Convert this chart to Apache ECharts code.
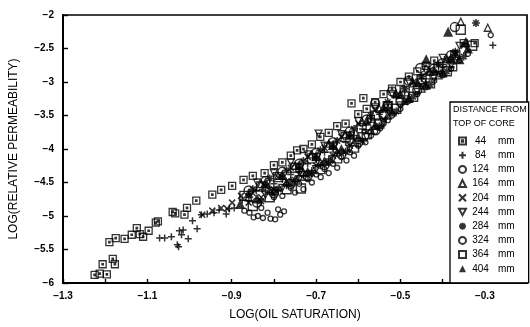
<!DOCTYPE html>
<html>
<head>
<meta charset="utf-8">
<script src="https://cdn.jsdelivr.net/npm/echarts@6/dist/echarts.min.js"></script>
<style>
  html, body { margin: 0; padding: 0; background: #fff; }
  #chart { width: 530px; height: 327px; }
</style>
</head>
<body>
<div id="chart"></div>
<script>
// Log relative permeability vs log oil saturation, grouped by distance from top of core
const depthNames = ['44 mm', '84 mm', '124 mm', '164 mm', '204 mm', '244 mm', '284 mm', '324 mm', '364 mm', '404 mm'];
const xTickLabels = [-1.3, -1.1, -0.9, -0.7, -0.5, -0.3];
const yTickLabels = [-6, -5.5, -5, -4.5, -4, -3.5, -3, -2.5, -2];

const d44 = [
  [-1.225,-5.88],[-1.213,-5.86],[-1.196,-5.87],[-1.206,-5.72],[-1.182,-5.64],[-1.177,-5.72],
  [-1.190,-5.39],[-1.175,-5.33],[-1.154,-5.34],[-1.137,-5.28],[-1.125,-5.18],[-1.118,-5.27],
  [-1.110,-5.31],[-1.097,-5.22],[-1.080,-5.10],[-1.075,-5.08],[-1.040,-4.94],[-1.034,-4.96],
  [-1.012,-4.98],[-1.006,-4.88],[-0.984,-4.77],[-0.946,-4.68],[-0.925,-4.61],[-0.899,-4.55],
  [-0.872,-4.46],[-0.850,-4.40],[-0.822,-4.36],[-0.80,-4.24],[-0.78,-4.20],[-0.76,-4.10],
  [-0.745,-4.02],[-0.73,-4.00],[-0.71,-3.93],[-0.69,-3.82],[-0.67,-3.76],[-0.65,-3.66],
  [-0.63,-3.62],[-0.616,-3.32],[-0.588,-3.24],[-0.60,-3.48],[-0.58,-3.40],[-0.56,-3.30],
  [-0.54,-3.18],[-0.52,-3.10],[-0.50,-3.00],[-0.48,-2.92],[-0.46,-2.84],[-0.44,-2.76],
  [-0.42,-2.68],[-0.375,-2.78],[-0.35,-2.42],[-0.324,-2.42],[-0.74,-4.28],[-0.70,-4.12],
  [-0.66,-3.95],[-0.62,-3.80],[-0.57,-3.55],[-0.53,-3.35]
];
const d84 = [
  [-1.071,-5.33],[-1.059,-5.33],[-1.043,-5.31],[-1.029,-5.43],[-1.026,-5.46],[-1.024,-5.22],
  [-1.019,-5.28],[-1.015,-5.21],[-1.003,-5.34],[-0.993,-5.07],[-0.982,-5.19],[-0.972,-4.98],
  [-0.958,-4.97],[-0.942,-4.95],[-0.930,-4.91],[-0.913,-4.97],[-0.906,-4.89],[-0.894,-4.88],
  [-0.875,-4.76],[-0.859,-4.67],[-0.842,-4.62],[-0.828,-4.60],[-0.81,-4.58],[-0.80,-4.52],
  [-0.79,-4.62],[-0.78,-4.45],[-0.77,-4.55],[-0.76,-4.38],[-0.75,-4.48],[-0.74,-4.30],
  [-0.73,-4.40],[-0.72,-4.22],[-0.71,-4.32],[-0.70,-4.15],[-0.69,-4.25],[-0.68,-4.05],
  [-0.67,-4.15],[-0.66,-3.98],[-0.65,-4.05],[-0.63,-3.90],[-0.61,-3.80],[-0.59,-3.70],
  [-0.57,-3.55],[-0.55,-3.48],[-0.53,-3.38],[-0.51,-3.22],[-0.49,-3.15],[-0.47,-3.02],
  [-0.45,-2.95],[-0.43,-2.85],[-0.40,-2.74],[-0.37,-2.60],[-0.281,-2.45]
];
const d124 = [
  [-0.870,-4.92],[-0.858,-4.95],[-0.848,-5.02],[-0.838,-5.00],[-0.826,-5.03],[-0.815,-4.95],
  [-0.808,-5.04],[-0.797,-5.05],[-0.785,-4.98],[-0.776,-4.93],[-0.790,-4.90],[-0.830,-4.88],
  [-0.80,-4.72],[-0.78,-4.70],[-0.76,-4.58],[-0.75,-4.65],[-0.74,-4.52],[-0.73,-4.60],
  [-0.72,-4.45],[-0.71,-4.50],[-0.70,-4.38],[-0.689,-4.42],[-0.68,-4.30],[-0.67,-4.36],
  [-0.66,-4.22],[-0.65,-4.28],[-0.64,-4.12],[-0.628,-4.17],[-0.62,-4.05],[-0.61,-4.10],
  [-0.60,-3.95],[-0.583,-3.90],[-0.57,-3.80],[-0.56,-3.74],[-0.548,-3.69],[-0.54,-3.62],
  [-0.53,-3.57],[-0.52,-3.50],[-0.50,-3.40],[-0.48,-3.28],[-0.46,-3.18],[-0.44,-3.08],
  [-0.42,-2.98],[-0.40,-2.90],[-0.38,-2.80],[-0.36,-2.68],[-0.34,-2.58],[-0.286,-2.30]
];
const d164 = [
  [-0.86,-4.72],[-0.83,-4.52],[-0.81,-4.62],[-0.79,-4.40],[-0.77,-4.50],[-0.75,-4.25],
  [-0.73,-4.35],[-0.71,-4.08],[-0.69,-4.20],[-0.67,-3.92],[-0.65,-4.05],[-0.63,-3.78],
  [-0.61,-3.90],[-0.59,-3.60],[-0.57,-3.72],[-0.55,-3.40],[-0.53,-3.50],[-0.51,-3.18],
  [-0.49,-3.28],[-0.47,-3.02],[-0.45,-3.10],[-0.43,-2.85],[-0.41,-2.90],[-0.39,-2.66],
  [-0.37,-2.58],[-0.357,-2.10],[-0.293,-2.19]
];
const d204 = [
  [-0.970,-4.98],[-0.946,-4.92],[-0.925,-4.88],[-0.911,-4.89],[-0.899,-4.80],[-0.878,-4.70],
  [-0.86,-4.80],[-0.85,-4.66],[-0.83,-4.72],[-0.82,-4.55],[-0.80,-4.60],[-0.79,-4.42],
  [-0.77,-4.48],[-0.76,-4.28],[-0.74,-4.38],[-0.72,-4.12],[-0.70,-4.25],[-0.68,-3.98],
  [-0.66,-4.10],[-0.64,-3.82],[-0.62,-3.95],[-0.60,-3.62],[-0.58,-3.75],[-0.56,-3.42],
  [-0.54,-3.55],[-0.529,-3.42],[-0.51,-3.20],[-0.49,-3.30],[-0.47,-3.00],[-0.451,-3.05],
  [-0.43,-2.82],[-0.41,-2.86],[-0.39,-2.66],[-0.37,-2.60],[-0.35,-2.46]
];
const d244 = [
  [-0.84,-4.50],[-0.82,-4.68],[-0.80,-4.36],[-0.78,-4.58],[-0.76,-4.20],[-0.74,-4.45],
  [-0.72,-4.08],[-0.70,-4.30],[-0.694,-3.77],[-0.68,-3.95],[-0.66,-4.15],[-0.64,-3.78],
  [-0.62,-4.00],[-0.60,-3.58],[-0.58,-3.82],[-0.56,-3.38],[-0.54,-3.60],[-0.52,-3.18],
  [-0.50,-3.35],[-0.48,-3.00],[-0.46,-3.15],[-0.44,-2.82],[-0.42,-2.95],[-0.40,-2.64],
  [-0.38,-2.75],[-0.36,-2.46]
];
const d284 = [
  [-0.85,-4.60],[-0.83,-4.78],[-0.81,-4.44],[-0.79,-4.60],[-0.77,-4.32],[-0.75,-4.46],
  [-0.73,-4.18],[-0.71,-4.36],[-0.69,-4.02],[-0.67,-4.20],[-0.65,-3.88],[-0.63,-4.04],
  [-0.61,-3.70],[-0.59,-3.88],[-0.57,-3.50],[-0.55,-3.66],[-0.53,-3.30],[-0.51,-3.44],
  [-0.49,-3.10],[-0.47,-3.22],[-0.45,-2.92],[-0.43,-3.04],[-0.41,-2.74],[-0.39,-2.84],
  [-0.37,-2.55],[-0.35,-2.62],[-0.321,-2.12]
];
const d324 = [
  [-0.86,-4.62],[-0.84,-4.80],[-0.82,-4.48],[-0.80,-4.66],[-0.78,-4.34],[-0.76,-4.52],
  [-0.74,-4.22],[-0.72,-4.40],[-0.70,-4.06],[-0.68,-4.24],[-0.66,-3.90],[-0.64,-4.08],
  [-0.62,-3.74],[-0.60,-3.90],[-0.559,-3.72],[-0.58,-3.56],[-0.56,-3.32],[-0.54,-3.48],
  [-0.52,-3.14],[-0.50,-3.30],[-0.48,-2.98],[-0.453,-2.79],[-0.46,-3.12],[-0.44,-2.94],
  [-0.42,-2.80],[-0.40,-2.72],[-0.38,-2.60],[-0.371,-2.18]
];
const d364 = [
  [-0.87,-4.70],[-0.85,-4.85],[-0.83,-4.56],[-0.81,-4.72],[-0.79,-4.42],[-0.77,-4.60],
  [-0.75,-4.28],[-0.736,-4.59],[-0.73,-4.40],[-0.71,-4.14],[-0.69,-4.30],[-0.67,-3.98],
  [-0.65,-4.14],[-0.63,-3.82],[-0.61,-3.98],[-0.592,-3.69],[-0.58,-3.78],[-0.559,-3.50],
  [-0.55,-3.62],[-0.53,-3.36],[-0.51,-3.40],[-0.49,-3.14],[-0.47,-3.22],[-0.45,-2.96],
  [-0.43,-3.02],[-0.41,-2.78],[-0.39,-2.84],[-0.37,-2.60],[-0.33,-2.46],[-0.357,-2.22]
];
const d404 = [
  [-0.88,-4.82],[-0.86,-4.66],[-0.84,-4.74],[-0.82,-4.50],[-0.80,-4.62],[-0.78,-4.38],
  [-0.76,-4.48],[-0.74,-4.24],[-0.72,-4.34],[-0.70,-4.10],[-0.68,-4.18],[-0.66,-3.94],
  [-0.64,-4.00],[-0.62,-3.78],[-0.60,-3.82],[-0.58,-3.58],[-0.56,-3.64],[-0.54,-3.38],
  [-0.52,-3.44],[-0.50,-3.18],[-0.48,-3.24],[-0.46,-3.00],[-0.439,-2.66],[-0.44,-3.04],
  [-0.42,-2.82],[-0.40,-2.86],[-0.38,-2.64],[-0.36,-2.66],[-0.345,-2.40],[-0.34,-2.50],
  [-0.387,-2.25]
];

const seriesData = [d44, d84, d124, d164, d204, d244, d284, d324, d364, d404];

// marker shape for each depth group
const open = { color: 'rgba(0,0,0,0)', borderColor: '#000', borderWidth: 1.3 };
const markers = [
  { symbol: 'path://M0,0H10V10H0Z M4,4H6V6H4Z', size: 7, style: open },
  { symbol: 'path://M5,0V10M0,5H10', size: 7, style: { ...open, borderWidth: 1.5 } },
  { symbol: 'circle', size: 5, style: { ...open, borderWidth: 1.3 } },
  { symbol: 'triangle', size: 7, style: open },
  { symbol: 'path://M0,0L10,10M10,0L0,10', size: 6, style: { ...open, borderWidth: 1.5 } },
  { symbol: 'path://M0,0H10L5,9Z', size: 7, style: open },
  { symbol: 'path://M5,0V10M0,5H10M1.5,1.5L8.5,8.5M8.5,1.5L1.5,8.5', size: 8, style: { ...open, borderWidth: 1.6 } },
  { symbol: 'circle', size: 9, style: { ...open, borderWidth: 1.4 } },
  { symbol: 'rect', size: 9, style: { ...open, borderWidth: 1.4 } },
  { symbol: 'triangle', size: 10, style: { color: '#000', borderWidth: 0 } }
];

const FONT = 'Liberation Sans, Arial, sans-serif';
const minus = v => String(v).replace('-', '\u2212');

const chart = echarts.init(document.getElementById('chart'), null, { renderer: 'canvas' });
chart.setOption({
  animation: false,
  backgroundColor: '#fff',
  grid: { left: 62, right: 1, top: 15, bottom: 44, show: true, borderColor: '#000', borderWidth: 1.7 },
  xAxis: {
    type: 'value', min: -1.3, max: -0.2, interval: 0.1,
    name: 'LOG(OIL SATURATION)', nameLocation: 'middle', nameGap: 26,
    nameTextStyle: { fontFamily: FONT, fontSize: 12, color: '#000' },
    axisLine: { lineStyle: { color: '#000', width: 1.9 } },
    axisTick: { inside: true, length: 4, lineStyle: { color: '#000', width: 1.4 } },
    splitLine: { show: false },
    axisLabel: {
      fontFamily: FONT, fontSize: 10, fontWeight: 'bold', color: '#000', margin: 8,
      formatter: v => xTickLabels.some(t => Math.abs(t - v) < 1e-6) ? minus(v.toFixed(1)) : ''
    }
  },
  yAxis: {
    type: 'value', min: -6, max: -2, interval: 0.5,
    name: 'LOG(RELATIVE PERMEABILITY)', nameLocation: 'middle', nameGap: 43,
    nameTextStyle: { fontFamily: FONT, fontSize: 12, color: '#000' },
    axisLine: { lineStyle: { color: '#000', width: 1.9 } },
    axisTick: { inside: true, length: 5, lineStyle: { color: '#000', width: 1.4 } },
    splitLine: { show: false },
    axisLabel: {
      fontFamily: FONT, fontSize: 10, fontWeight: 'bold', color: '#000', margin: 9,
      formatter: v => yTickLabels.some(t => Math.abs(t - v) < 1e-6) ? minus(v) : ''
    }
  },
  legend: {
    orient: 'vertical', left: 450, top: 102,
    padding: [34, 14, 9, 8],
    itemWidth: 7, itemHeight: 7, itemGap: 4.2,
    borderColor: '#000', borderWidth: 1.3, backgroundColor: '#fff',
    data: depthNames,
    formatter: name => {
      const parts = name.split(' ');
      return '{n|' + parts[0] + '}{u|' + parts[1] + '}';
    },
    textStyle: {
      fontFamily: FONT, fontSize: 10, color: '#000',
      rich: {
        n: { fontFamily: FONT, fontSize: 10, color: '#000', width: 19, align: 'right', lineHeight: 10 },
        u: { fontFamily: FONT, fontSize: 10, color: '#000', padding: [0, 0, 0, 8], lineHeight: 10 }
      }
    }
  },
  graphic: [
    { type: 'text', left: 453, top: 105, z: 100,
      style: { text: 'DISTANCE FROM', font: '9px ' + FONT, fill: '#000' } },
    { type: 'text', left: 453, top: 119, z: 100,
      style: { text: 'TOP OF CORE', font: '9px ' + FONT, fill: '#000' } }
  ],
  series: seriesData.map((data, i) => ({
    name: depthNames[i],
    type: 'scatter',
    data: data,
    symbol: markers[i].symbol,
    symbolSize: markers[i].size,
    itemStyle: markers[i].style,
    emphasis: { disabled: true },
    silent: true
  }))
});
</script>
</body>
</html>
